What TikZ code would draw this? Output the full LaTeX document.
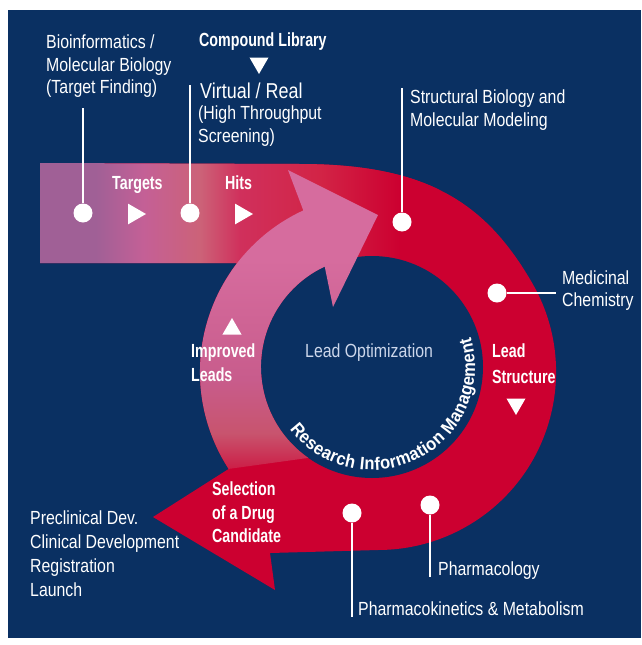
\documentclass[tikz,border=0pt]{standalone}
\usepackage{fontspec}
\setmainfont{Liberation Sans}
\newfontfamily\regfont[FakeStretch=0.835]{Liberation Sans}
\newfontfamily\boldfont[FakeStretch=0.75]{Liberation Sans}
\newfontfamily\ringfont[FakeStretch=0.92]{Liberation Sans}
\usetikzlibrary{shapes.geometric,decorations.text}

\definecolor{navy}{RGB}{10,48,98}
\definecolor{ringred}{RGB}{204,0,48}
\definecolor{bandL}{RGB}{160,96,150}
\definecolor{bandM}{RGB}{196,96,150}
\definecolor{bandO}{RGB}{204,98,120}
\definecolor{bandR}{RGB}{208,48,92}
\definecolor{bandRR}{RGB}{210,36,70}
\definecolor{pinkTop}{RGB}{214,108,158}
\definecolor{pinkMid}{RGB}{200,92,140}
\definecolor{pinkLow}{RGB}{200,84,110}
\definecolor{pinkEnd}{RGB}{204,30,70}
\definecolor{optext}{RGB}{205,215,235}

% colour run of the entry band, left to right
\pgfdeclarehorizontalshading{bandfade}{100bp}{%
  color(0bp)=(bandL); color(25bp)=(bandL); color(32bp)=(bandL);
  color(38bp)=(bandM); color(45bp)=(bandO); color(50bp)=(bandR);
  color(60bp)=(bandRR); color(70bp)=(ringred); color(100bp)=(ringred)}
% colour run of the returning loop, bottom to top
\pgfdeclareverticalshading{pinkfade}{100bp}{%
  color(0bp)=(pinkEnd); color(25bp)=(pinkEnd); color(31bp)=(pinkLow);
  color(40bp)=(pinkMid); color(60bp)=(pinkTop); color(100bp)=(pinkTop)}

% outline of the band, the outer ring and the exit arrow
\newcommand\loopoutline{(40,163) -- (300,164)
  .. controls (430,164) and (487,205) .. (532.2,283)
  arc[start angle=-30, end angle=90, radius=178]
  -- (270,553) -- (275,590) -- (153,517) -- (228.7,468.9)
  arc[start angle=147, end angle=217.7, radius=178]
  -- (40,263) -- cycle}

\tikzset{
  lbl/.style={text=white, inner sep=0pt, align=left, anchor=north west,
    font=\regfont\fontsize{19}{23}\selectfont},
  blbl/.style={lbl, font=\boldfont\bfseries\fontsize{19}{23}\selectfont},
  dot/.style={circle, fill=white, inner sep=0pt, minimum size=19pt},
  tri/.style={regular polygon, regular polygon sides=3, fill=white,
    inner sep=0pt, minimum size=22pt},
  lead/.style={draw=white, line width=2.6pt},
}

\begin{document}
\begin{tikzpicture}[x=1pt,y=-1pt]
\useasboundingbox (0,0) rectangle (641,645);
\fill[white] (0,0) rectangle (641,645);
\fill[navy] (8,10) rectangle (641,638);

% red loop with its entry band
\fill[ringred] \loopoutline;
\begin{scope}
  \clip \loopoutline;
  \shade[shading=bandfade] (40,160) rectangle (440,270);
\end{scope}

% centre disc
\coordinate (C) at (372,367);
\fill[navy] (C) circle[radius=111];

% returning loop with its arrowhead
\shade[shading=pinkfade] (303.3,210.4)
  arc[start angle=245.2, end angle=147, radius=178]
  -- (308.3,457.9) arc[start angle=125, end angle=244.8, radius=111]
  -- (333,307) -- (378,215) -- (288,170) -- cycle;

% circular caption inside the disc
\path[decorate, decoration={text along path, text color=white,
  text={|\ringfont\bfseries\fontsize{18}{18}\selectfont|Research Information Management},
  text align=fit to path}]
  (C) ++(143:103) arc[start angle=143, end angle=-17, radius=103];

% labels
\node[lbl] (bio) at (46,35) {Bioinformatics /\\[-0.5pt]Molecular Biology\\[-0.5pt](Target Finding)};
\node[blbl] (lib) at (199,33) {Compound Library};
\node[lbl, font=\regfont\fontsize{21.5}{25}\selectfont] (vr) at (200,83) {Virtual / Real};
\node[lbl] (hts) at (198,106) {(High Throughput\\Screening)};
\node[lbl] (sbm) at (410,90) {Structural Biology and\\Molecular Modeling};
\node[blbl] (tg) at (112,176) {Targets};
\node[blbl] (hits) at (225,176) {Hits};
\node[lbl] (med) at (562,271) {Medicinal\\[-1pt]Chemistry};
\node[lbl, text=optext] (lo) at (305,344) {Lead Optimization};
\node[blbl] (il) at (191,344) {Improved\\[1pt]Leads};
\node[blbl] (ls) at (492,344) {Lead\\[3pt]Structure};
\node[blbl] (sel) at (212,482) {Selection\\[0.5pt]of a Drug\\[0.5pt]Candidate};
\node[lbl] (pre) at (30,511) {Preclinical Dev.\\[0.7pt]Clinical Development\\[0.7pt]Registration\\[0.7pt]Launch};
\node[lbl] (pharm) at (438,562) {Pharmacology};
\node[lbl] (pk) at (358,602) {Pharmacokinetics \& Metabolism};

% flow markers
\node[tri, shape border rotate=180] (libtri) at (259,63) {};
\node[tri, shape border rotate=-90, minimum size=24pt] (tgtri) at (134,214) {};
\node[tri, shape border rotate=-90, minimum size=24pt] (hitstri) at (241,214) {};
\node[tri] (iltri) at (232,329) {};
\node[tri, shape border rotate=180] (lstri) at (516,404) {};

% stations on the loop
\node[dot] (d1) at (83,213) {};
\node[dot] (d2) at (190,213) {};
\node[dot] (d3) at (402,222) {};
\node[dot] (d4) at (497,293) {};
\node[dot] (d5) at (430,505) {};
\node[dot] (d6) at (352,513) {};

\coordinate (e1) at (83,108);
\coordinate (e2) at (190,85);
\coordinate (e3) at (402,88);
\coordinate (e4) at (556,293);
\coordinate (e5) at (430,577);
\coordinate (e6) at (352,617);
\draw[lead] (e1) -- (d1);
\draw[lead] (e2) -- (d2);
\draw[lead] (e3) -- (d3);
\draw[lead] (d4) -- (e4);
\draw[lead] (d5) -- (e5);
\draw[lead] (d6) -- (e6);
\end{tikzpicture}
\end{document}
